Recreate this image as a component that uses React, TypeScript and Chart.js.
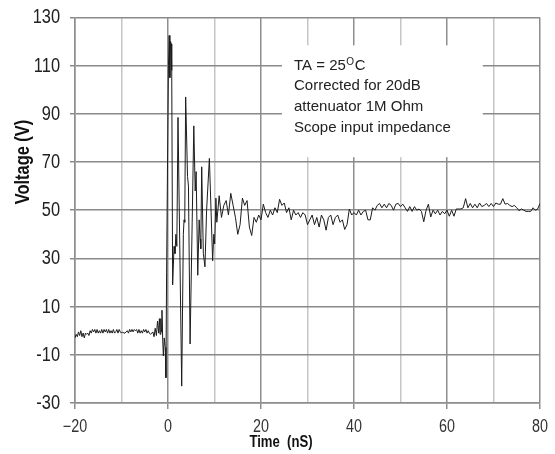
import { useEffect, useRef } from "react";
import { Chart, registerables } from "chart.js";

Chart.register(...registerables);

// ---------- data ----------
const preTimeNs = [
  -20, -19.75, -19.5, -19.25, -19, -18.75, -18.5, -18.25,
  -18, -17.75, -17.5, -17.25, -17, -16.75, -16.5, -16.25,
  -16, -15.75, -15.5, -15.25, -15, -14.75, -14.5, -14.25,
  -14, -13.75, -13.5, -13.25, -13, -12.75, -12.5, -12.25,
  -12, -11.75, -11.5, -11.25, -11, -10.75, -10.5, -10.25,
  -10, -9.75, -9.5, -9.25, -9, -8.75, -8.5, -8.25,
  -8, -7.75, -7.5, -7.25, -7, -6.75, -6.5, -6.25,
  -6, -5.75, -5.5, -5.25, -5, -4.75, -4.5, -4.25,
  -4, -3.75, -3.5, -3.25, -3, -2.75, -2.5, -2.25,
];
const preVoltageV = [
  -3, -1.5, -2.5, -0.5, -2, 0, -2.5, -1,
  -3, -1, -1.5, -1, -2, 0, -1, 0.5,
  -0.5, 0.5, -1, 0.5, -1, 0, -1, 0.5,
  -1, 0.5, -0.5, 0.5, -1, 0.5, -1, 0,
  -1, 0.5, -1, -0.5, 0.5, -1, 0.5, -0.5,
  -1, -0.5, -1, -1, -0.5, 0, -1, 0.5,
  -0.5, 0.5, -0.5, 0.5, 0, 0.5, -1, 0.5,
  -1, 0, -1, 0.5, -0.5, 0.5, -1, 0,
  -1, -1.5, -1, -0.5, -2.5, 1, -2, 4,
];

const ringTimeNs = [
  -2.0, -1.85, -1.7, -1.55, -1.4, -1.3, -1.15, -1.0, -0.8, -0.6,
  -0.45, -0.3, -0.1, 0.1, 0.25, 0.4, 0.55, 0.7, 0.8, 1.0,
  1.3, 1.5, 1.7, 1.9, 2.15, 2.95, 3.3, 3.45, 3.6, 3.8,
  4.2, 4.4, 4.75, 5.2, 5.55, 5.85, 6.05, 6.4, 6.7, 6.9,
  7.05, 7.25, 7.6, 7.95, 8.3, 8.9, 9.6, 9.85, 10.05, 10.3,
];
const ringVoltageV = [
  -1, 5, -1.5, 5, -0.5, 8.5, -3, -10.5, -3, -7,
  -19.5, 24, 70, 110, 122.5, 105, 120, 119, 108, 19,
  35, 32, 40, 35, 88.5, -23, 40, 46, 45, 97,
  64, 60, -5.5, 45, 85, 58, 66, 23, 46, 38,
  34, 68, 32, 26.5, 50, 71.5, 29, 40, 36, 55,
];

const tailTimeNs = [
  10.5, 11, 11.5, 12, 12.5, 13, 13.5, 14, 14.5, 15,
  15.5, 16, 16.5, 17, 17.5, 18, 18.5, 19, 19.5, 20,
  20.5, 21, 21.5, 22, 22.5, 23, 23.5, 24, 24.5, 25,
  25.5, 26, 26.5, 27, 27.5, 28, 28.5, 29, 29.5, 30,
  30.5, 31, 31.5, 32, 32.5, 33, 33.5, 34, 34.5, 35,
  35.5, 36, 36.5, 37, 37.5, 38, 38.5, 39, 39.5, 40,
  40.5, 41, 41.5, 42, 42.5, 43, 43.5, 44, 44.5, 45,
  45.5, 46, 46.5, 47, 47.5, 48, 48.5, 49, 49.5, 50,
  50.5, 51, 51.5, 52, 52.5, 53, 53.5, 54, 54.5, 55,
  55.5, 56, 56.5, 57, 57.5, 58, 58.5, 59, 59.5, 60,
  60.5, 61, 61.5, 62, 62.5, 63, 63.5, 64, 64.5, 65,
  65.5, 66, 66.5, 67, 67.5, 68, 68.5, 69, 69.5, 70,
  70.5, 71, 71.5, 72, 72.5, 73, 73.5, 74, 74.5, 75,
  75.5, 76, 76.5, 77, 77.5, 78, 78.5, 79, 79.5, 80,
];
const tailVoltageV = [
  45, 56, 47, 52, 54, 48, 57, 52, 47, 40,
  44, 55, 52, 54, 43, 39.5, 47, 45, 48, 46,
  52.5, 49, 47, 50, 48, 51, 49, 54.5, 52, 53,
  49, 51, 46, 50, 48, 49, 47, 49, 48, 44,
  46, 48, 44, 47, 43, 48, 46, 41.7, 47, 48,
  44, 47, 48, 45, 46, 42, 44, 50.5, 48, 49,
  48, 50, 48, 49.5, 50, 46, 46, 51, 50, 52,
  52.8, 51, 52.5, 51, 52.8, 52, 50, 52.5, 52.8, 51.5,
  52.5, 51, 49.5, 51.5, 49.5, 51.5, 50, 50.5, 49.5, 45.2,
  50, 52.5, 47.2, 50, 48.5, 50, 48, 49.5, 48.5, 50,
  47.5, 50, 47.5, 50.5, 50.5, 50.5, 51, 54.8, 51, 52.8,
  51, 52.5, 51, 53, 51.5, 52, 52.8, 51.5, 52.8, 51.5,
  53, 52.5, 52.5, 54.8, 52.5, 52.8, 52, 51.5, 52, 51,
  49.8, 50.5, 50, 49.5, 49.5, 49.5, 51, 50, 50.5, 52.8,
];

const timeNs = [...preTimeNs, ...ringTimeNs, ...tailTimeNs];
const voltageV = [...preVoltageV, ...ringVoltageV, ...tailVoltageV];

// axes
const xMin = -20;
const xMax = 80;
const xGridStep = 10;
const xLabelStep = 20;
const yMin = -30;
const yMax = 130;
const yStep = 20;

const xTitle = "Time  (nS)";
const yTitle = "Voltage (V)";
const noteHead = ["TA = 25", "O", "C"];
const noteLines = ["Corrected for 20dB", "attenuator 1M Ohm", "Scope input impedance"];
// note box extent in data units (x0, x1, yTop, yBottom)
const noteBox = [24.5, 67.7, 118.4, 72];
const noteTextAt = [27.1, 108.3];

const SANS = "'Liberation Sans', Arial, sans-serif";
const NARROW_SCALE = 0.82; // emulates Arial Narrow from Liberation Sans

function narrowText(ctx: CanvasRenderingContext2D, text: string, x: number, y: number) {
  ctx.save();
  ctx.translate(x, y);
  ctx.scale(NARROW_SCALE, 1);
  ctx.fillText(text, 0, 0);
  ctx.restore();
}

function xLabel(n: number) {
  return n < 0 ? "\u2212" + Math.abs(n) : String(n);
}

const notePlugin = {
  id: "notePlugin",
  beforeDatasetsDraw(chart: any) {
    const { ctx } = chart;
    const x = chart.scales.x;
    const y = chart.scales.y;
    const l = x.getPixelForValue(noteBox[0]);
    const r = x.getPixelForValue(noteBox[1]);
    const t = y.getPixelForValue(noteBox[2]);
    const b = y.getPixelForValue(noteBox[3]);
    ctx.save();
    ctx.fillStyle = "#ffffff";
    ctx.fillRect(l, t, r - l, b - t);
    ctx.restore();
  },
  afterDraw(chart: any) {
    const { ctx, chartArea } = chart;
    const x = chart.scales.x;
    const y = chart.scales.y;
    ctx.save();

    // tick labels (drawn from the scales' own ticks)
    ctx.fillStyle = "#222";
    ctx.font = `20px ${SANS}`;
    ctx.textAlign = "right";
    ctx.textBaseline = "middle";
    y.ticks.forEach((tk: any) => {
      narrowText(ctx, String(tk.value), chartArea.left - 15, y.getPixelForValue(tk.value) + 0.5);
    });
    ctx.fillStyle = "#333";
    ctx.font = `17.5px ${SANS}`;
    ctx.textAlign = "center";
    x.ticks.forEach((tk: any) => {
      if (tk.value % xLabelStep !== 0) return;
      narrowText(ctx, xLabel(tk.value), x.getPixelForValue(tk.value), chartArea.bottom + 24);
    });

    // note
    ctx.fillStyle = "#222";
    ctx.textBaseline = "alphabetic";
    ctx.textAlign = "left";
    const tx = x.getPixelForValue(noteTextAt[0]);
    const ty = y.getPixelForValue(noteTextAt[1]);
    ctx.font = `15px ${SANS}`;
    ctx.fillText(noteHead[0], tx, ty);
    const w = ctx.measureText(noteHead[0]).width;
    ctx.font = `10px ${SANS}`;
    ctx.fillText(noteHead[1], tx + w + 0.5, ty - 4.5);
    const w2 = ctx.measureText(noteHead[1]).width;
    ctx.font = `15px ${SANS}`;
    ctx.fillText(noteHead[2], tx + w + w2 + 1, ty);
    noteLines.forEach((line, i) => {
      ctx.fillText(line, tx, ty + 20.8 * (i + 1));
    });

    // x title
    ctx.font = `bold 16px ${SANS}`;
    ctx.fillStyle = "#111";
    ctx.textAlign = "left";
    narrowText(ctx, xTitle, x.getPixelForValue(17.5), chart.height - 7);

    // y title
    ctx.translate(chartArea.left - 52, y.getPixelForValue(70));
    ctx.rotate(-Math.PI / 2);
    ctx.textAlign = "center";
    ctx.textBaseline = "middle";
    ctx.font = `bold 20px ${SANS}`;
    narrowText(ctx, yTitle, 0, 0);
    ctx.restore();
  },
};

export default function App() {
  const ref = useRef<HTMLCanvasElement | null>(null);

  useEffect(() => {
    if (!ref.current) return;
    const points = timeNs.map((t, i) => ({ x: t, y: voltageV[i] }));
    const chart = new Chart(ref.current, {
      type: "line",
      data: {
        datasets: [
          {
            data: points,
            borderColor: "#1c1c1c",
            borderWidth: 1,
            pointRadius: 0,
            tension: 0,
            fill: false,
          },
        ],
      },
      options: {
        animation: false,
        responsive: false,
        devicePixelRatio: 1,
        layout: { padding: { left: 0, right: 15, top: 17, bottom: 0 } },
        plugins: { legend: { display: false }, tooltip: { enabled: false }, title: { display: false } },
        scales: {
          x: {
            type: "linear",
            min: xMin,
            max: xMax,
            afterFit: (axis: any) => {
              axis.height = 51;
            },
            ticks: {
              stepSize: xGridStep,
              autoSkip: false,
              maxRotation: 0,
              padding: 6,
              color: "rgba(0,0,0,0)",
              font: { family: SANS, size: 14 },
              callback: (v: any) => {
                const n = Number(v);
                return n % xLabelStep !== 0 ? "" : xLabel(n);
              },
            },
            grid: {
              color: (c: any) => (c.tick && c.tick.value % xLabelStep === 0 ? "#8e8e8e" : "#c6c6c6"),
              lineWidth: 1.5,
              drawTicks: true,
              tickLength: 6,
              tickColor: (c: any) => (c.tick && c.tick.value % xLabelStep === 0 ? "#8e8e8e" : "rgba(0,0,0,0)"),
            },
            border: { display: true, color: "#8e8e8e", width: 1.5 },
          },
          y: {
            type: "linear",
            min: yMin,
            max: yMax,
            afterFit: (axis: any) => {
              axis.width = 75;
            },
            ticks: {
              stepSize: yStep,
              padding: 9,
              color: "rgba(0,0,0,0)",
              font: { family: SANS, size: 14 },
            },
            grid: {
              color: "#8a8a8a",
              lineWidth: 1.5,
              drawTicks: true,
              tickLength: 5,
              tickColor: "#8a8a8a",
            },
            border: { display: true, color: "#8e8e8e", width: 1.5 },
          },
        },
      },
      plugins: [notePlugin],
    });
    return () => chart.destroy();
  }, []);

  return (
    <div style={{ position: "fixed", left: 0, top: 0, width: 555, height: 454, background: "#fff" }}>
      <canvas ref={ref} width={555} height={454} style={{ display: "block" }} />
    </div>
  );
}
